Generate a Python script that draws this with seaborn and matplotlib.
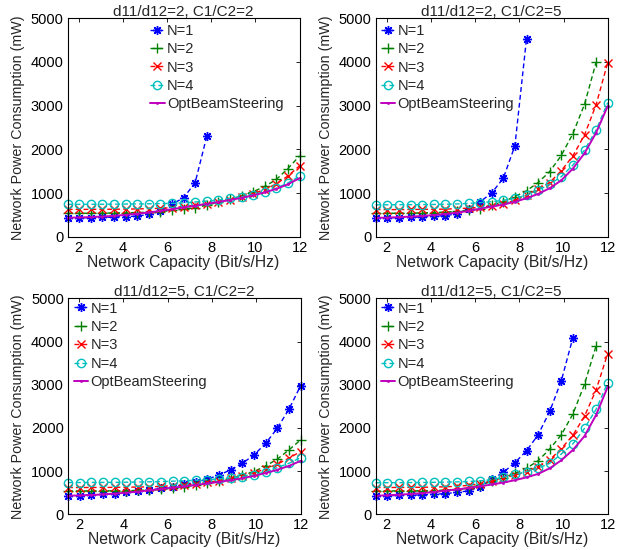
import matplotlib
matplotlib.use("Agg")
import matplotlib.pyplot as plt
import pandas as pd
import seaborn as sns

# Network capacity grid (Bit/s/Hz)
capacity = [1.5, 2.025, 2.55, 3.075, 3.6, 4.125, 4.65, 5.175, 5.7, 6.225, 6.75,
            7.275, 7.8, 8.325, 8.85, 9.375, 9.9, 10.425, 10.95, 11.475, 12.0]

# d11/d12=2, C1/C2=2  (network power consumption, mW)
tl_n1 = [430, 432, 435, 440, 450, 462, 470, 510, 580, 745, 890, 1240, 2300]
tl_n2 = [535, 535, 537, 540, 543, 547, 553, 560, 575, 600, 630, 665, 720, 790, 860, 935, 1030, 1150, 1310, 1560, 1850]
tl_n3 = [625, 625, 626, 627, 629, 632, 636, 642, 650, 665, 690, 720, 755, 800, 850, 910, 985, 1080, 1210, 1390, 1620]
tl_n4 = [740, 740, 742, 743, 745, 747, 750, 753, 758, 765, 775, 795, 815, 840, 875, 915, 965, 1030, 1110, 1230, 1385]
tl_opt = [435, 440, 450, 462, 478, 500, 525, 555, 590, 630, 670, 710, 750, 795, 840, 890, 945, 1015, 1095, 1200, 1340]

# d11/d12=2, C1/C2=5
tr_n1 = [430, 432, 436, 442, 452, 465, 485, 520, 640, 800, 1000, 1340, 2080, 4530]
tr_n2 = [535, 536, 538, 540, 545, 552, 562, 578, 605, 645, 720, 800, 920, 1050, 1240, 1490, 1860, 2360, 3030, 3990]
tr_n3 = [620, 620, 621, 623, 625, 628, 632, 640, 655, 675, 710, 760, 830, 950, 1090, 1240, 1510, 1850, 2330, 3020, 3985]
tr_n4 = [730, 730, 732, 733, 735, 738, 742, 750, 762, 780, 800, 835, 878, 950, 1065, 1200, 1375, 1640, 1985, 2440, 3070]
tr_opt = [430, 438, 448, 460, 475, 495, 520, 550, 590, 640, 690, 735, 800, 880, 980, 1110, 1290, 1560, 1910, 2380, 2990]

# d11/d12=5, C1/C2=2
bl_n1 = [430, 435, 445, 460, 480, 505, 530, 560, 600, 640, 690, 745, 815, 910, 1030, 1180, 1375, 1640, 1990, 2430, 2970]
bl_n2 = [540, 540, 541, 542, 544, 547, 551, 560, 575, 600, 635, 675, 720, 770, 830, 900, 990, 1120, 1275, 1490, 1720]
bl_n3 = [620, 620, 621, 622, 624, 627, 631, 637, 647, 662, 682, 708, 740, 780, 830, 890, 960, 1050, 1160, 1300, 1450]
bl_n4 = [735, 735, 737, 738, 740, 743, 747, 752, 758, 766, 776, 788, 802, 820, 842, 872, 910, 985, 1080, 1180, 1310]
bl_opt = [430, 437, 447, 460, 478, 500, 525, 555, 585, 615, 645, 680, 715, 750, 790, 835, 890, 955, 1030, 1120, 1235]

# d11/d12=5, C1/C2=5
br_n1 = [430, 432, 436, 442, 450, 462, 480, 505, 545, 640, 810, 970, 1195, 1470, 1840, 2380, 3090, 4090]
br_n2 = [540, 540, 541, 542, 545, 550, 558, 575, 610, 680, 760, 850, 950, 1065, 1240, 1510, 1840, 2320, 3010, 3900]
br_n3 = [620, 620, 621, 623, 626, 630, 637, 648, 670, 710, 770, 840, 905, 985, 1100, 1260, 1520, 1830, 2270, 2880, 3720]
br_n4 = [730, 732, 733, 735, 737, 740, 745, 750, 760, 775, 800, 860, 925, 985, 1065, 1180, 1395, 1630, 1990, 2430, 3050]
br_opt = [430, 440, 455, 470, 490, 515, 545, 575, 610, 650, 690, 735, 790, 855, 935, 1065, 1250, 1490, 1810, 2300, 2950]

series_names = ["N=1", "N=2", "N=3", "N=4", "OptBeamSteering"]
panel_titles = ["d11/d12=2, C1/C2=2", "d11/d12=2, C1/C2=5",
                "d11/d12=5, C1/C2=2", "d11/d12=5, C1/C2=5"]
panel_data = [
    [tl_n1, tl_n2, tl_n3, tl_n4, tl_opt],
    [tr_n1, tr_n2, tr_n3, tr_n4, tr_opt],
    [bl_n1, bl_n2, bl_n3, bl_n4, bl_opt],
    [br_n1, br_n2, br_n3, br_n4, br_opt],
]
x_ticks = [2, 4, 6, 8, 10, 12]
y_ticks = [0, 1000, 2000, 3000, 4000, 5000]

# long-form table for seaborn
rows = []
for p, series in enumerate(panel_data):
    for name, vals in zip(series_names, series):
        for c, v in zip(capacity, vals):
            rows.append({"panel": p, "series": name, "capacity": c, "power": v})
df = pd.DataFrame(rows)

sns.set_theme(style="white")
plt.rcParams["font.family"] = ["Liberation Sans", "DejaVu Sans"]
plt.rcParams["axes.linewidth"] = 0.8

styles = {
    "N=1": dict(color=(0, 0, 1), marker=(8, 2, 0), ms=6.5, ls="--", lw=1.0,
                mec=(0, 0, 1), mfc="none", mew=1.0),
    "N=2": dict(color=(0, 0.5, 0), marker="+", ms=7, ls="--", lw=1.0,
                mec=(0, 0.5, 0), mfc="none", mew=1.0),
    "N=3": dict(color=(1, 0, 0), marker="x", ms=5.5, ls="--", lw=1.0,
                mec=(1, 0, 0), mfc="none", mew=1.0),
    "N=4": dict(color=(0, 0.75, 0.75), marker="o", ms=6, ls="--", lw=1.0,
                mec=(0, 0.75, 0.75), mfc="none", mew=1.0),
    "OptBeamSteering": dict(color=(0.75, 0, 0.75), marker=".", ms=3, ls="-", lw=1.4,
                            mec=(0.75, 0, 0.75), mfc=(0.75, 0, 0.75), mew=0.5),
}

fig = plt.figure(figsize=(6.29, 5.5), dpi=100)
W, H = 629.0, 550.0
rects = [
    (67.7, 18.3, 299.5, 236.7),
    (375.7, 18.3, 607.7, 236.7),
    (68.0, 298.3, 300.5, 514.3),
    (375.7, 298.3, 607.7, 514.3),
]
legend_anchor = [(0.355, 0.975), (0.022, 0.975), (0.025, 0.985), (0.022, 0.985)]

for p, (x0, y0, x1, y1) in enumerate(rects):
    ax = fig.add_axes([x0 / W, 1 - y1 / H, (x1 - x0) / W, (y1 - y0) / H])
    sub = df[df["panel"] == p]
    for name in series_names:
        d = sub[sub["series"] == name]
        sns.lineplot(data=d, x="capacity", y="power", ax=ax, label=name,
                     estimator=None, sort=False, clip_on=False, **styles[name])
        if styles[name]["ls"] == "--":
            ax.lines[-1].set_dashes((3.5, 2.2))
    ax.set_xlim(1.5, 12)
    ax.set_ylim(0, 5000)
    ax.set_xticks(x_ticks)
    ax.set_yticks(y_ticks)
    ax.tick_params(direction="in", length=3, width=0.6, top=True, right=True,
                   labelsize=10.5, pad=3, colors="black")
    for s in ax.spines.values():
        s.set_color("black")
        s.set_linewidth(0.8)
    ax.set_xlabel("Network Capacity (Bit/s/Hz)", fontsize=11.3, labelpad=0)
    ax.set_ylabel("Network Power Consumption (mW)", fontsize=10.3, labelpad=4)
    ax.set_title(panel_titles[p], fontsize=11, pad=2)
    ax.legend(loc="upper left", bbox_to_anchor=legend_anchor[p], frameon=False,
              fontsize=10.5, handlelength=1.0, handletextpad=0.15, labelspacing=0.3,
              borderpad=0, borderaxespad=0, numpoints=1)

fig.savefig("out.png", dpi=100)
